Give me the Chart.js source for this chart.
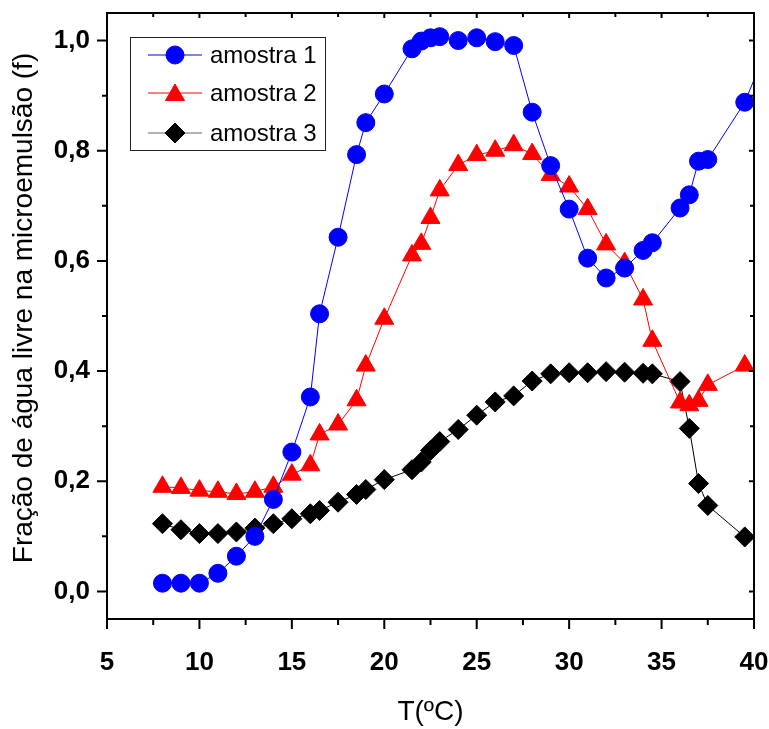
<!DOCTYPE html>
<html>
<head>
<meta charset="utf-8">
<script src="https://cdn.jsdelivr.net/npm/chart.js@4"></script>
<style>
	body { margin: 0; background: #fff; }
	#box { width: 769px; height: 729px; }
</style>
</head>
<body>
<div id="box"><canvas id="myChart"></canvas></div>
<script>
const temps = [8, 9, 10, 11, 12, 13, 14, 15, 16, 16.5, 17.5, 18.5, 19, 20, 21.5, 22, 22.5, 23, 24, 25, 26, 27, 28, 29, 30, 31, 32, 33, 34, 34.5, 36, 36.5, 37, 37.5, 39.5, 41]
const amostra1 = [0.015, 0.015, 0.015, 0.033, 0.064, 0.1, 0.167, 0.253, 0.353, 0.504, 0.643, 0.793, 0.851, 0.903, 0.985, 0.999, 1.005, 1.007, 1.0, 1.005, 0.998, 0.991, 0.87, 0.773, 0.694, 0.605, 0.569, 0.587, 0.619, 0.633, 0.696, 0.72, 0.781, 0.784, 0.888, 1.01]
const amostra2 = [0.19, 0.188, 0.183, 0.181, 0.177, 0.181, 0.19, 0.212, 0.229, 0.285, 0.303, 0.347, 0.41, 0.495, 0.61, 0.631, 0.678, 0.728, 0.774, 0.792, 0.8, 0.81, 0.794, 0.756, 0.735, 0.694, 0.63, 0.596, 0.53, 0.455, 0.343, 0.338, 0.346, 0.375, 0.41, null]
const amostra3 = [0.123, 0.112, 0.105, 0.105, 0.108, 0.115, 0.123, 0.132, 0.141, 0.147, 0.162, 0.176, 0.185, 0.203, 0.221, 0.235, 0.256, 0.272, 0.294, 0.32, 0.344, 0.355, 0.382, 0.395, 0.397, 0.397, 0.399, 0.398, 0.396, 0.395, 0.381, 0.296, 0.196, 0.156, 0.099, null]
const seriesNames = ['amostra 1', 'amostra 2', 'amostra 3']
const xTicks = [5, 10, 15, 20, 25, 30, 35, 40]
const yTicks = [0, 0.2, 0.4, 0.6, 0.8, 1.0]

function pts(values) {
	return temps.map((t, i) => ({ x: t, y: values[i] })).filter(p => p.y !== null)
}

const frame = {
	id: 'frame',
	afterDraw(chart) {
		const ctx = chart.ctx
		const a = chart.chartArea
		const xs = chart.scales.x
		const ys = chart.scales.y
		ctx.save()
		ctx.strokeStyle = '#000'
		ctx.lineWidth = 2
		ctx.strokeRect(a.left, a.top, a.right - a.left, a.bottom - a.top)
		// ticks
		for (let v = 5; v <= 40; v += 2.5) {
			const px = xs.getPixelForValue(v)
			const major = v % 5 === 0
			ctx.beginPath()
			ctx.moveTo(px, a.bottom)
			ctx.lineTo(px, a.bottom + (major ? 10 : 6))
			ctx.moveTo(px, a.top)
			ctx.lineTo(px, a.top + (major ? 5 : 4))
			ctx.stroke()
		}
		for (let i = 0; i <= 10; i++) {
			const py = ys.getPixelForValue(i / 10)
			const major = i % 2 === 0
			ctx.beginPath()
			ctx.moveTo(a.left, py)
			ctx.lineTo(a.left - (major ? 10 : 5), py)
			ctx.moveTo(a.right, py)
			ctx.lineTo(a.right - (major ? 5 : 4), py)
			ctx.stroke()
		}
		// axis titles
		ctx.fillStyle = '#000'
		ctx.textAlign = 'center'
		ctx.textBaseline = 'middle'
		ctx.font = '28px "Liberation Sans", Arial, sans-serif'
		ctx.fillText('T(ºC)', (a.left + a.right) / 2, 712)
		ctx.save()
		ctx.translate(24, 308)
		ctx.rotate(-Math.PI / 2)
		ctx.font = '28px "Liberation Sans", Arial, sans-serif'
		ctx.fillText('Fração de água livre na microemulsão (f)', 0, 0)
		ctx.restore()
		// legend
		ctx.lineWidth = 1
		ctx.strokeStyle = '#222'
		ctx.strokeRect(130.5, 37.5, 195, 113)
		const rows = [55, 93, 133]
		chart.data.datasets.forEach((ds, i) => {
			const y = rows[i]
			ctx.strokeStyle = i === 2 ? '#666' : ds.borderColor
			ctx.lineWidth = 1
			ctx.beginPath()
			ctx.moveTo(148, y)
			ctx.lineTo(202, y)
			ctx.stroke()
			ctx.fillStyle = ds.pointBackgroundColor
			ctx.strokeStyle = ds.pointBackgroundColor
			Chart.helpers.drawPoint(ctx, { pointStyle: ds.pointStyle, radius: ds.pointRadius, rotation: 0, borderWidth: 1 }, 175, i === 1 ? y + 2 : y)
			ctx.fillStyle = '#000'
			ctx.textAlign = 'left'
			ctx.font = '24px "Liberation Sans", Arial, sans-serif'
			ctx.fillText(ds.label, 210, y + 1)
		})
		ctx.restore()
	}
}

new Chart(document.getElementById('myChart'), {
	type: 'line',
	data: {
		datasets: [{
			label: seriesNames[0],
			data: pts(amostra1),
			borderColor: '#0000FF',
			backgroundColor: '#0000FF',
			pointBackgroundColor: '#0000FF',
			pointBorderColor: '#0000FF',
			pointStyle: 'circle',
			pointRadius: 9,
			borderWidth: 1,
			fill: false
		},
		{
			label: seriesNames[1],
			data: pts(amostra2),
			borderColor: '#FF0000',
			backgroundColor: '#FF0000',
			pointBackgroundColor: '#FF0000',
			pointBorderColor: '#FF0000',
			pointStyle: 'triangle',
			pointRadius: 11,
			borderWidth: 1,
			fill: false
		},
		{
			label: seriesNames[2],
			data: pts(amostra3),
			borderColor: '#000000',
			backgroundColor: '#000000',
			pointBackgroundColor: '#000000',
			pointBorderColor: '#000000',
			pointStyle: 'rectRot',
			pointRadius: 10,
			borderWidth: 1,
			fill: false
		}]
	},
	options: {
		responsive: true,
		maintainAspectRatio: false,
		animation: false,
		layout: { padding: { left: 0, top: 13, right: 15, bottom: 0 } },
		plugins: { legend: { display: false }, tooltip: { enabled: false } },
		elements: { line: { tension: 0 }, point: { pointBorderWidth: 1 } },
		scales: {
			x: {
				type: 'linear',
				min: 5,
				max: 40,
				afterFit(scale) {
					scale.height = 110
					scale.paddingLeft = 0
					scale.paddingRight = 0
				},
				afterBuildTicks(scale) { scale.ticks = xTicks.map(v => ({ value: v })) },
				border: { display: false },
				grid: { display: false, drawTicks: true, tickLength: 10 },
				ticks: {
					color: '#000',
					padding: 18,
					maxRotation: 0,
					font: { family: '"Liberation Sans", Arial, sans-serif', size: 26, weight: 'bold' },
					callback: v => String(v)
				}
			},
			y: {
				min: -0.05,
				max: 1.05,
				afterFit(scale) {
					scale.width = 107
					scale.paddingTop = 0
					scale.paddingBottom = 0
				},
				afterBuildTicks(scale) { scale.ticks = yTicks.map(v => ({ value: v })) },
				border: { display: false },
				grid: { display: false, drawTicks: true, tickLength: 10 },
				ticks: {
					color: '#000',
					padding: 7,
					font: { family: '"Liberation Sans", Arial, sans-serif', size: 26, weight: 'bold' },
					callback: v => v.toFixed(1).replace('.', ',')
				}
			}
		}
	},
	plugins: [frame]
})
</script>
</body>
</html>
